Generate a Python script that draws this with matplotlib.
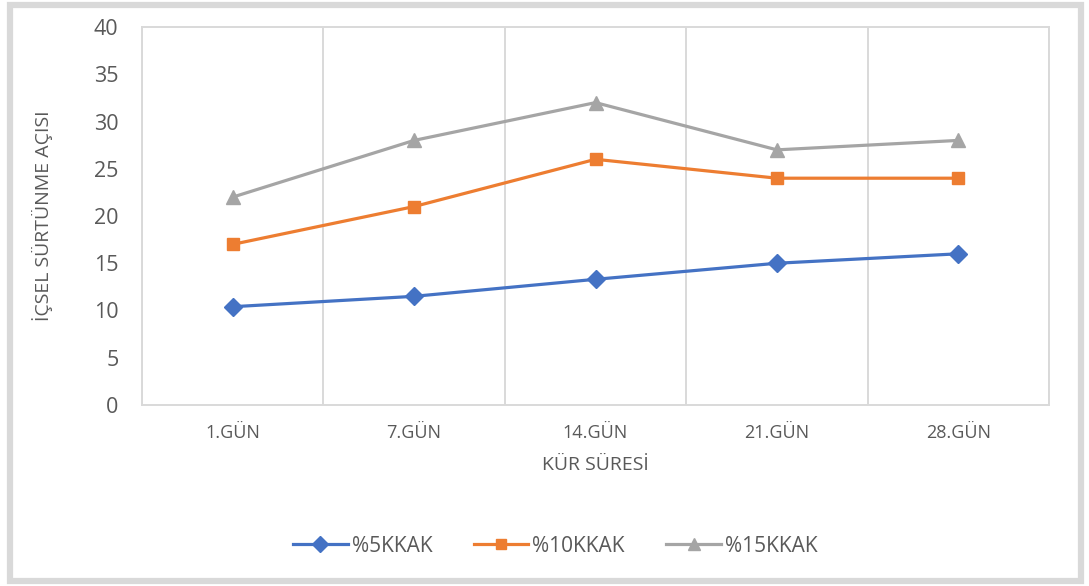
import matplotlib
matplotlib.use("Agg")
import matplotlib.pyplot as plt
from matplotlib.patches import Rectangle
import numpy as np

# data
days = ["1.GÜN", "7.GÜN", "14.GÜN", "21.GÜN", "28.GÜN"]
kkak_5 = [10.4, 11.5, 13.3, 15.0, 16.0]
kkak_10 = [17.0, 21.0, 26.0, 24.0, 24.0]
kkak_15 = [22.0, 28.0, 32.0, 27.0, 28.0]
series_names = ["%5KKAK", "%10KKAK", "%15KKAK"]
y_ticks = [0, 5, 10, 15, 20, 25, 30, 35, 40]

plt.rcParams['font.family'] = ['Open Sans', 'DejaVu Sans']
text_col = '#595959'
grid_col = '#D9D9D9'

fig = plt.figure(figsize=(10.89, 5.86), dpi=100)
ax = fig.add_axes([0.1304, 0.3089, 0.8329, 0.645])

x = np.arange(len(days))
styles = [
    (kkak_5, '#4472C4', 'D', 9),
    (kkak_10, '#ED7D31', 's', 9),
    (kkak_15, '#A5A5A5', '^', 10),
]
for (vals, col, mk, ms), name in zip(styles, series_names):
    ax.plot(x, vals, color=col, marker=mk, markersize=ms, linewidth=2.3,
            label=name, zorder=3)

ax.set_xlim(-0.5, len(days) - 0.5)
ax.set_ylim(0, 40)
ax.set_yticks(y_ticks)
ax.set_xticks(x)
ax.set_xticklabels(days)
# vertical gridlines at category boundaries, as in Excel
ax.set_xticks(np.arange(-0.5, len(days), 1.0), minor=True)
ax.grid(True, which='minor', axis='x', color=grid_col, linewidth=1.4)
ax.tick_params(axis='both', which='both', length=0)
ax.tick_params(axis='y', labelsize=15.5, labelcolor=text_col, pad=17)
ax.tick_params(axis='x', labelsize=13, labelcolor=text_col, pad=14)
for s in ax.spines.values():
    s.set_color(grid_col)
    s.set_linewidth(1.4)

ax.set_xlabel("KÜR SÜRESİ", fontsize=14, color=text_col, labelpad=10)
ax.set_ylabel("İÇSEL SÜRTÜNME AÇISI", fontsize=14, color=text_col, labelpad=29)

leg = ax.legend(loc='center', bbox_to_anchor=(0.51, 0.068), bbox_transform=fig.transFigure,
                ncol=3, frameon=False, fontsize=15, handlelength=2.6, markerscale=0.85,
                columnspacing=2.0, handletextpad=0.2)
for t in leg.get_texts():
    t.set_color(text_col)

# outer chart frame
fig.patches.append(Rectangle((0.0095, 0.009), 0.983, 0.982, transform=fig.transFigure,
                             fill=False, edgecolor=grid_col, linewidth=4.5))

fig.savefig("out.png", dpi=100)
